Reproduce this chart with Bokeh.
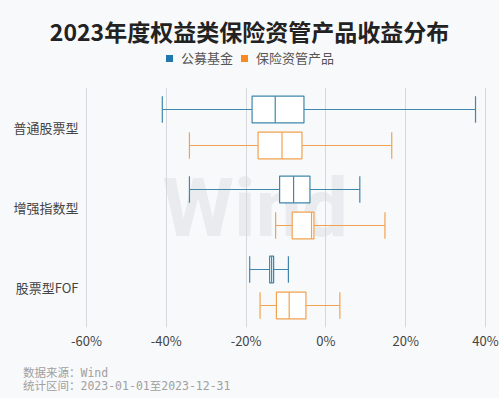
from bokeh.plotting import figure
from bokeh.layouts import column
from bokeh.models import (ColumnDataSource, FactorRange, FixedTicker, PrintfTickFormatter, Label, Div)
from bokeh.transform import dodge
from bokeh.embed import file_html
from bokeh.resources import INLINE

title_text = "2023年度权益类保险资管产品收益分布"
series_names = ["公募基金", "保险资管产品"]
categories = ["普通股票型", "增强指数型", "股票型FOF"]
x_ticks = [-60, -40, -20, 0, 20, 40]

fund_low = [-41.0, -34.2, -19.1]
fund_q1 = [-18.5, -11.6, -14.1]
fund_med = [-12.7, -8.1, -13.6]
fund_q3 = [-5.5, -4.0, -13.1]
fund_high = [37.5, 8.5, -9.4]

ins_low = [-34.2, -12.6, -16.5]
ins_q1 = [-17.0, -8.45, -12.4]
ins_med = [-11.0, -3.6, -9.2]
ins_q3 = [-6.0, -3.0, -5.0]
ins_high = [16.5, 14.8, 3.5]

source_lines = ["数据来源：Wind", "统计区间：2023-01-01至2023-12-31"]

BG = "#f8f9fb"
BLUE = "#3f87ab"
ORANGE = "#f2a24e"
BLUE_SQ = "#1f78b0"
ORANGE_SQ = "#f7891f"
FONT = "Noto Sans CJK SC"
W = 499
HEAD_H = 87
MAIN_H = 270
FOOT_H = 398 - HEAD_H - MAIN_H

# ---- header: title + legend (HTML)
sq = ("display:inline-block;width:7px;height:7px;background:{c};"
      "vertical-align:middle;position:relative;top:-1px;margin-right:8px;")
head_html = (
    f'<div style="position:relative;width:{W}px;height:{HEAD_H}px;background:{BG};'
    f"font-family:'{FONT}';margin:0;padding:0;\">"
    f'<div style="position:absolute;left:0;top:19px;width:{W}px;text-align:center;'
    f'font-size:23px;font-weight:bold;color:#222222;line-height:24px;white-space:nowrap;">'
    f'{title_text}</div>'
    f'<div style="position:absolute;left:166px;top:51px;line-height:14px;font-size:13px;'
    f'color:#555555;white-space:nowrap;">'
    f'<span style="{sq.format(c=BLUE_SQ)}"></span>{series_names[0]}'
    f'<span style="{sq.format(c=ORANGE_SQ)}margin-left:8px;"></span>{series_names[1]}'
    f'</div></div>'
)
head = Div(text=head_html, width=W, height=HEAD_H, margin=0,
           styles={"background-color": BG, "padding": "0", "margin": "0"})

# ---- main chart
p = figure(width=W, height=MAIN_H, output_backend="svg", toolbar_location=None,
           x_range=(-60.25, 40.25), y_range=FactorRange(factors=categories[::-1], range_padding=0),
           min_border_left=85, min_border_right=13, min_border_top=0, min_border_bottom=30,
           background_fill_color=BG, border_fill_color=BG, outline_line_color=None)

p.ygrid.grid_line_color = None
p.xgrid.grid_line_color = "#d6d8db"
p.xgrid.grid_line_width = 1
p.xaxis.ticker = FixedTicker(ticks=x_ticks)
p.xaxis.formatter = PrintfTickFormatter(format="%d%%")
for ax in (p.xaxis, p.yaxis):
    ax.axis_line_color = None
    ax.major_tick_line_color = None
    ax.minor_tick_line_color = None
    ax.major_tick_out = 0
    ax.major_tick_in = 0
    ax.major_label_text_font = FONT
    ax.major_label_text_font_size = "13px"
    ax.major_label_text_color = "#444444"
p.yaxis.major_label_standoff = 7
p.xaxis.major_label_standoff = 3

# watermark
p.add_layout(Label(x=-41, y=1.49, text="Wind", text_baseline="alphabetic",
                   text_font="Roboto", text_font_style="bold", text_font_size="82px",
                   text_color="#e9ebee", level="image"))


def draw(low, q1, med, q3, high, offset, color):
    src = ColumnDataSource(dict(cat=categories, low=low, q1=q1, med=med, q3=q3, high=high))
    y = dodge("cat", offset, range=p.y_range)
    y0 = dodge("cat", offset - 0.165, range=p.y_range)
    y1 = dodge("cat", offset + 0.165, range=p.y_range)
    kw = dict(source=src, line_color=color, line_width=1.2)
    p.segment(x0="low", x1="q1", y0=y, y1=y, **kw)
    p.segment(x0="q3", x1="high", y0=y, y1=y, **kw)
    p.segment(x0="low", x1="low", y0=y0, y1=y1, **kw)
    p.segment(x0="high", x1="high", y0=y0, y1=y1, **kw)
    p.hbar(y=y, left="q1", right="q3", height=0.335, fill_color="white", **kw)
    p.segment(x0="med", x1="med", y0=y0, y1=y1, **kw)


draw(fund_low, fund_q1, fund_med, fund_q3, fund_high, 0.225, BLUE)
draw(ins_low, ins_q1, ins_med, ins_q3, ins_high, -0.225, ORANGE)

# ---- footer (HTML)
foot_html = (
    f'<div style="position:relative;width:{W}px;height:{FOOT_H}px;background:{BG};'
    f"font-family:'DejaVu Sans Mono','{FONT}',monospace;font-size:11.5px;color:#a0a0a0;"
    f'margin:0;padding:0;">'
    f'<div style="position:absolute;left:23px;top:10px;line-height:13px;white-space:nowrap;">'
    f'{source_lines[0]}</div>'
    f'<div style="position:absolute;left:23px;top:23px;line-height:13px;white-space:nowrap;">'
    f'{source_lines[1]}</div></div>'
)
foot = Div(text=foot_html, width=W, height=FOOT_H, margin=0,
           styles={"background-color": BG, "padding": "0", "margin": "0"})

layout = column(head, p, foot, spacing=0, styles={"background-color": BG})
open("out.html", "w").write(file_html(layout, INLINE))
